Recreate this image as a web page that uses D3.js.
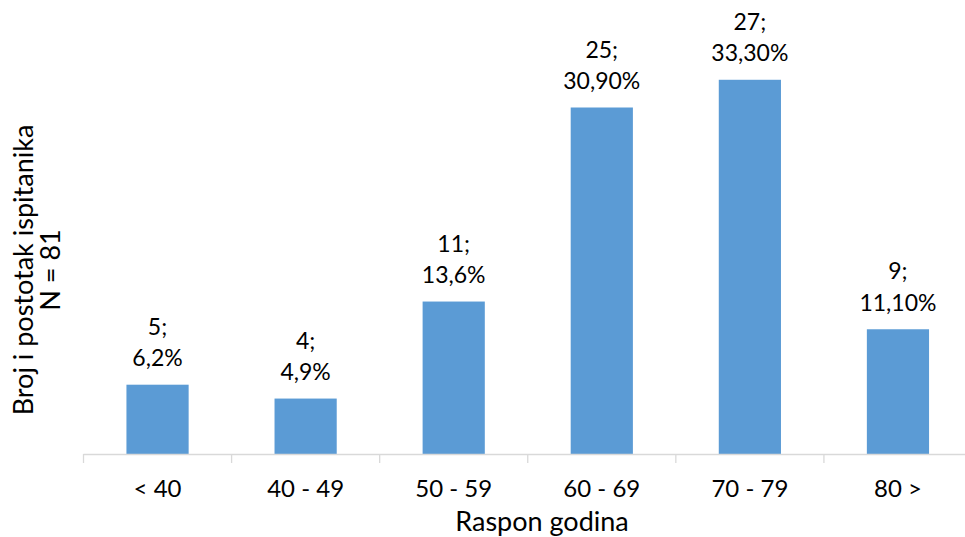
<!DOCTYPE html>
<html>
<head>
<meta charset="utf-8">
<script src="https://cdn.jsdelivr.net/npm/d3@7"></script>
<style>
  body { margin: 0; background: #fff; }
  svg { display: block; font-family: "Lato", "Open Sans", sans-serif; }
</style>
</head>
<body>
<div id="chart"></div>
<script>
// Age ranges of respondents
const categories = ["< 40", "40 - 49", "50 - 59", "60 - 69", "70 - 79", "80 >"];
const counts = [5, 4, 11, 25, 27, 9];
const percentLabels = ["6,2%", "4,9%", "13,6%", "30,90%", "33,30%", "11,10%"];

const width = 965;
const height = 537;
const baseline = 454;

const svg = d3.select("#chart")
  .append("svg")
  .attr("width", width)
  .attr("height", height);

// plot area runs past the right edge of the picture
const x = d3.scaleBand()
  .domain(categories)
  .range([83.5, 972])
  .paddingInner(0.58)
  .paddingOuter(0.29);

const y = d3.scaleLinear()
  .domain([0, 30])
  .range([baseline, baseline - 30 * 13.86]);

// bars
svg.append("g")
  .selectAll("rect")
  .data(counts)
  .enter()
  .append("rect")
  .attr("x", (d, i) => x(categories[i]))
  .attr("width", x.bandwidth())
  .attr("y", d => y(d))
  .attr("height", d => y(0) - y(d))
  .attr("fill", "#5b9bd5");

// x axis line + ticks at category boundaries
const axis = svg.append("g").attr("stroke", "#d9d9d9").attr("stroke-width", 1.3);
axis.append("line")
  .attr("x1", x.range()[0]).attr("x2", x.range()[1])
  .attr("y1", baseline + 0.5).attr("y2", baseline + 0.5);
const edges = categories.map(c => x(c) - x.step() * x.paddingInner() / 2);
axis.selectAll("line.tick")
  .data(edges)
  .enter()
  .append("line")
  .attr("class", "tick")
  .attr("x1", d => d).attr("x2", d => d)
  .attr("y1", baseline).attr("y2", baseline + 9);

// tick labels
svg.append("g")
  .selectAll("text")
  .data(categories)
  .enter()
  .append("text")
  .attr("x", d => x(d) + x.bandwidth() / 2)
  .attr("y", 497)
  .attr("text-anchor", "middle")
  .attr("font-size", 24)
  .attr("fill", "#000")
  .text(d => d);

// data labels
const lbl = svg.append("g")
  .selectAll("text")
  .data(counts)
  .enter()
  .append("text")
  .attr("text-anchor", "middle")
  .attr("font-size", 23)
  .attr("fill", "#000");
lbl.append("tspan")
  .attr("x", (d, i) => x(categories[i]) + x.bandwidth() / 2)
  .attr("y", d => y(d) - 50)
  .text(d => d + ";");
lbl.append("tspan")
  .attr("x", (d, i) => x(categories[i]) + x.bandwidth() / 2)
  .attr("y", d => y(d) - 18.5)
  .text((d, i) => percentLabels[i]);

// axis titles
svg.append("text")
  .attr("x", 542)
  .attr("y", 531)
  .attr("text-anchor", "middle")
  .attr("font-size", 27)
  .text("Raspon godina");

const yt = svg.append("text")
  .attr("transform", "translate(0,270) rotate(-90)")
  .attr("text-anchor", "middle")
  .attr("font-size", 27);
yt.append("tspan").attr("x", 0).attr("y", 33).text("Broj i postotak ispitanika");
yt.append("tspan").attr("x", 0).attr("y", 60).text("N = 81");
</script>
</body>
</html>
